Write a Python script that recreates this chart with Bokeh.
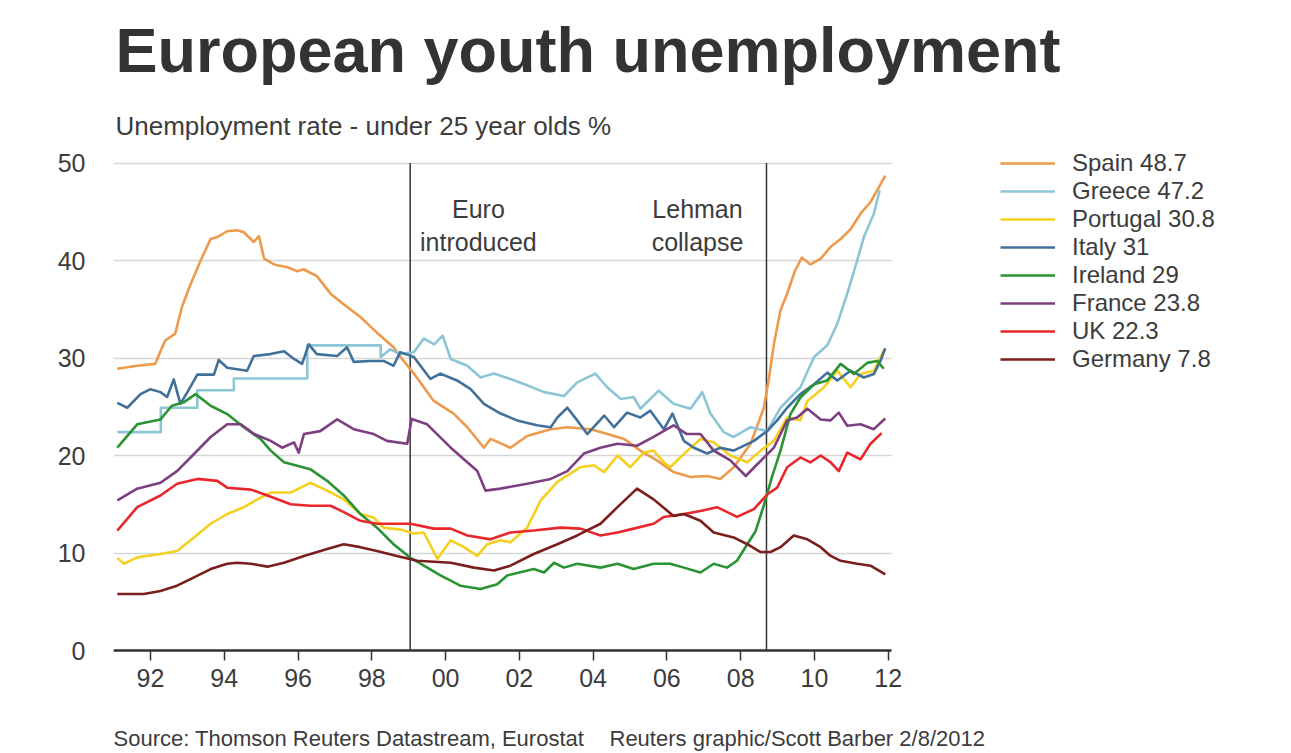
from bokeh.plotting import figure
from bokeh.models import Range1d, FixedTicker, Label, Legend, LegendItem
from bokeh.embed import file_html
from bokeh.resources import INLINE

# ---------------- data ----------------
countries = ["Spain", "Greece", "Portugal", "Italy", "Ireland", "France", "UK", "Germany"]
latest = [48.7, 47.2, 30.8, 31, 29, 23.8, 22.3, 7.8]
colors = ["#ED9A4C", "#8CC6D6", "#F5D020", "#41709A", "#2A9433", "#7D3F82", "#E8262B", "#7B1E1E"]

spain_t = [1991.10,1991.64,1992.13,1992.27,1992.40,1992.67,1992.85,1993.09,1993.36,1993.63,1993.81,1994.08,1994.35,1994.53,1994.80,1994.94,1995.08,1995.35,1995.71,1995.98,1996.15,1996.51,1996.88,1997.24,1997.69,1998.14,1998.59,1998.78,1999.14,1999.68,2000.22,2000.59,2001.04,2001.22,2001.76,2002.21,2002.85,2003.30,2003.93,2004.39,2004.84,2005.28,2005.73,2006.18,2006.64,2007.09,2007.45,2007.81,2008.27,2008.63,2008.77,2008.90,2009.08,2009.26,2009.48,2009.66,2009.89,2010.17,2010.44,2010.71,2010.98,2011.25,2011.52,2011.70,2011.92]
spain_v = [28.9,29.2,29.4,30.7,31.8,32.5,35.2,37.6,40.0,42.2,42.4,43.0,43.1,42.9,41.9,42.5,40.2,39.6,39.3,38.9,39.1,38.4,36.6,35.5,34.2,32.6,31.1,30.1,28.4,25.6,24.3,22.9,20.8,21.7,20.8,22.0,22.7,22.9,22.7,22.2,21.7,20.5,19.5,18.3,17.8,17.9,17.6,18.8,21.2,24.9,28.0,31.4,34.9,36.6,39.0,40.3,39.6,40.2,41.4,42.2,43.2,44.8,46.0,47.2,48.7]

greece_t = [1991.10,1992.28,1992.28,1993.27,1993.27,1994.26,1994.26,1996.25,1996.25,1998.24,1998.24,1998.50,1998.78,1999.14,1999.41,1999.69,1999.92,2000.14,2000.59,2000.95,2001.31,2001.76,2002.21,2002.67,2003.21,2003.57,2004.06,2004.38,2004.75,2005.10,2005.28,2005.78,2006.18,2006.64,2006.96,2007.18,2007.54,2007.81,2008.27,2008.72,2009.08,2009.62,2009.99,2010.35,2010.62,2010.89,2011.16,2011.34,2011.61,2011.77]
greece_v = [22.4,22.4,24.9,24.9,26.7,26.7,27.9,27.9,31.3,31.3,30.1,30.9,30.4,30.6,32.0,31.4,32.3,29.9,29.2,28.0,28.4,27.85,27.2,26.5,26.1,27.5,28.4,27.0,25.8,26.0,24.8,26.65,25.3,24.8,26.5,24.3,22.4,21.9,22.9,22.5,24.9,27.0,30.1,31.3,33.5,36.6,40.0,42.4,44.8,47.2]

portugal_t = [1991.10,1991.28,1991.64,1992.27,1992.72,1993.18,1993.63,1994.08,1994.53,1994.90,1995.26,1995.80,1996.33,1996.79,1997.24,1997.69,1998.05,1998.32,1998.78,1999.14,1999.41,1999.78,2000.14,2000.50,2000.86,2001.13,2001.49,2001.76,2002.21,2002.58,2003.03,2003.66,2004.02,2004.30,2004.66,2005.01,2005.37,2005.64,2005.92,2006.09,2006.46,2006.91,2007.27,2007.72,2008.18,2008.54,2008.90,2009.26,2009.62,2009.81,2010.26,2010.62,2010.98,2011.25,2011.61,2011.88]
portugal_v = [9.5,8.9,9.55,9.9,10.2,11.6,13.0,14.0,14.7,15.5,16.2,16.2,17.2,16.4,15.5,14.0,13.65,12.6,12.4,12.0,12.1,9.4,11.3,10.6,9.7,10.9,11.3,11.1,12.6,15.4,17.3,18.8,19.0,18.3,20.0,18.8,20.3,20.5,19.3,18.8,20.15,21.7,21.35,20.0,19.3,20.5,21.5,23.9,23.6,25.6,27.0,28.7,27.0,28.35,28.7,30.8]

italy_t = [1991.10,1991.37,1991.73,1992.00,1992.27,1992.45,1992.63,1992.81,1993.00,1993.27,1993.72,1993.85,1994.08,1994.62,1994.80,1995.25,1995.62,1995.89,1996.11,1996.29,1996.51,1997.06,1997.33,1997.51,1997.96,1998.32,1998.59,1998.77,1999.14,1999.59,1999.86,2000.31,2000.68,2001.04,2001.49,2001.94,2002.48,2002.85,2003.03,2003.30,2003.57,2003.84,2004.30,2004.57,2004.92,2005.28,2005.55,2005.92,2006.15,2006.46,2006.73,2007.09,2007.45,2007.81,2008.36,2008.72,2008.99,2009.26,2009.62,2009.99,2010.35,2010.62,2010.98,2011.34,2011.61,2011.79,2011.92]
italy_v = [25.4,24.9,26.3,26.8,26.5,26.0,27.8,25.3,26.5,28.3,28.3,29.8,29.0,28.7,30.2,30.4,30.7,29.9,29.4,31.4,30.4,30.2,31.1,29.6,29.7,29.7,29.2,30.6,30.1,27.85,28.4,27.7,26.8,25.3,24.3,23.6,23.1,22.9,23.9,24.9,23.6,22.2,24.1,22.9,24.4,23.9,24.6,22.7,24.3,21.5,20.8,20.2,20.8,20.5,21.5,22.5,23.6,24.9,26.3,27.3,28.5,27.7,28.7,28.0,28.35,29.7,31.0]

ireland_t = [1991.10,1991.64,1992.27,1992.58,1992.90,1993.22,1993.63,1994.08,1994.53,1994.98,1995.26,1995.62,1996.33,1996.79,1997.24,1997.69,1998.14,1998.59,1999.05,1999.32,1999.86,2000.40,2000.95,2001.40,2001.67,2002.39,2002.67,2002.94,2003.21,2003.57,2004.20,2004.66,2005.10,2005.64,2006.09,2006.46,2006.91,2007.27,2007.63,2007.90,2008.18,2008.40,2008.63,2008.85,2009.08,2009.26,2009.35,2009.62,2009.99,2010.35,2010.71,2011.07,2011.43,2011.70,2011.88]
ireland_v = [20.8,23.2,23.7,25.1,25.45,26.3,25.1,24.25,22.9,21.7,20.5,19.3,18.6,17.4,15.9,14.0,12.6,10.9,9.5,8.9,7.7,6.65,6.3,6.8,7.7,8.35,8.0,9.0,8.5,8.9,8.5,8.9,8.35,8.9,8.9,8.5,8.0,8.9,8.5,9.2,10.9,12.2,14.9,17.8,20.5,23.0,24.25,25.95,27.3,27.7,29.4,28.35,29.5,29.7,28.9]

france_t = [1991.10,1991.64,1992.27,1992.72,1993.18,1993.63,1994.08,1994.45,1994.81,1995.26,1995.57,1995.89,1996.02,1996.16,1996.60,1997.06,1997.51,1998.05,1998.41,1998.96,1999.08,1999.50,2000.14,2000.86,2001.08,2001.49,2002.21,2002.85,2003.30,2003.75,2004.20,2004.66,2005.19,2005.64,2006.18,2006.54,2006.91,2007.27,2007.72,2008.14,2008.45,2008.90,2009.26,2009.53,2009.81,2010.17,2010.44,2010.66,2010.89,2011.25,2011.61,2011.92]
france_v = [15.4,16.6,17.2,18.4,20.15,21.9,23.2,23.2,22.2,21.5,20.8,21.35,20.3,22.2,22.5,23.7,22.7,22.2,21.5,21.2,23.75,23.2,20.8,18.4,16.4,16.6,17.1,17.6,18.4,20.2,20.8,21.2,21.0,21.9,23.1,22.2,22.2,20.5,19.5,17.9,19.1,20.8,23.6,23.9,24.8,23.7,23.6,24.4,23.05,23.2,22.7,23.8]

uk_t = [1991.10,1991.64,1992.27,1992.72,1993.27,1993.81,1994.08,1994.72,1995.17,1995.80,1996.33,1996.88,1997.24,1997.69,1998.14,1998.59,1999.05,1999.68,2000.14,2000.59,2001.22,2001.76,2002.39,2003.12,2003.66,2004.20,2004.66,2005.10,2005.64,2005.92,2006.46,2006.91,2007.36,2007.90,2008.36,2008.72,2008.99,2009.26,2009.62,2009.89,2010.17,2010.44,2010.66,2010.89,2011.25,2011.52,2011.82]
uk_v = [12.3,14.7,15.9,17.1,17.6,17.4,16.7,16.5,15.9,15.0,14.85,14.85,14.2,13.3,13.0,13.0,13.0,12.5,12.5,11.8,11.4,12.1,12.3,12.6,12.5,11.8,12.1,12.5,13.0,13.7,14.0,14.3,14.7,13.7,14.5,16.0,16.7,18.8,19.8,19.3,20.0,19.3,18.4,20.3,19.6,21.2,22.3]

germany_t = [1991.10,1991.82,1992.27,1992.72,1993.18,1993.63,1994.08,1994.35,1994.72,1995.17,1995.62,1996.16,1996.79,1997.24,1997.69,1998.14,1998.68,1999.23,2000.14,2000.77,2001.31,2001.76,2002.39,2003.03,2003.57,2004.20,2004.66,2005.19,2005.64,2006.18,2006.46,2006.91,2007.27,2007.81,2008.18,2008.54,2008.81,2009.08,2009.44,2009.81,2010.17,2010.44,2010.71,2011.16,2011.52,2011.92]
germany_v = [5.8,5.8,6.1,6.65,7.5,8.35,8.9,9.0,8.9,8.6,9.0,9.7,10.4,10.9,10.6,10.2,9.7,9.2,9.0,8.5,8.2,8.7,9.9,10.9,11.8,13.0,14.7,16.6,15.5,13.8,14.0,13.3,12.1,11.6,10.9,10.1,10.1,10.6,11.8,11.4,10.6,9.7,9.2,8.9,8.7,7.8]

series_t = [spain_t, greece_t, portugal_t, italy_t, ireland_t, france_t, uk_t, germany_t]
series_v = [spain_v, greece_v, portugal_v, italy_v, ireland_v, france_v, uk_v, germany_v]

event_dates = [1999.04, 2008.70]
event_lines1 = ["Euro", "Lehman"]
event_lines2 = ["introduced", "collapse"]
event_label_x = [2000.89, 2006.83]

y_ticks = [0, 10, 20, 30, 40, 50]
x_ticks = [1992, 1994, 1996, 1998, 2000, 2002, 2004, 2006, 2008, 2010, 2012]
x_tick_labels = ["92", "94", "96", "98", "00", "02", "04", "06", "08", "10", "12"]

# ---------------- layout ----------------
W, H = 1288, 752
FRAME_LEFT = 113          # canvas x of the chart's left edge
ZERO_Y = 650              # canvas y of the zero line
PX_PER_YEAR = 36.885
PX_PER_UNIT = 9.75
X_START = 1990.997
X_AXIS_END = 2012.09
X_END = X_START + (W - FRAME_LEFT) / PX_PER_YEAR
Y_TOP = ZERO_Y / PX_PER_UNIT
Y_BOTTOM = -(H - ZERO_Y) / PX_PER_UNIT
Y_AXIS_END = 50

FONT = "Liberation Sans"
TXT = "#3c3c3c"

p = figure(width=W, height=H, output_backend="svg", toolbar_location=None,
           x_range=Range1d(X_START, X_END), y_range=Range1d(Y_BOTTOM, Y_TOP),
           min_border_left=FRAME_LEFT, min_border_right=0,
           min_border_top=0, min_border_bottom=0)
p.outline_line_color = None
p.background_fill_color = "white"
p.border_fill_color = "white"

# grid (horizontal lines only across the chart area)
p.xgrid.grid_line_color = None
grid = p.ygrid[0]
if "cross_bounds" in grid.properties():
    grid.ticker = FixedTicker(ticks=y_ticks)
    grid.bounds = (0, Y_AXIS_END)
    grid.cross_bounds = (X_START, X_AXIS_END)
    grid.grid_line_color = "#d6d6d6"
    grid.grid_line_width = 1.5
else:
    grid.grid_line_color = None
    p.segment(x0=[X_START] * len(y_ticks), y0=y_ticks, x1=[X_AXIS_END] * len(y_ticks), y1=y_ticks,
              line_color="#d6d6d6", line_width=1.5, level="underlay")

# y axis
p.yaxis.ticker = FixedTicker(ticks=y_ticks)
p.yaxis.axis_line_color = None
p.yaxis.major_tick_line_color = None
p.yaxis.minor_tick_line_color = None
p.yaxis.major_label_text_font = FONT
p.yaxis.major_label_text_font_size = "25px"
p.yaxis.major_label_text_color = TXT
p.yaxis.major_label_standoff = 22

# x axis, drawn on the zero line
p.xaxis.fixed_location = 0
p.xaxis.ticker = FixedTicker(ticks=x_ticks)
p.xaxis.bounds = (X_START, X_AXIS_END)
p.xaxis.major_label_overrides = {t: l for t, l in zip(x_ticks, x_tick_labels)}
p.xaxis.axis_line_color = "#333333"
p.xaxis.axis_line_width = 2.5
p.xaxis.major_tick_line_color = "#333333"
p.xaxis.major_tick_line_width = 1.5
p.xaxis.major_tick_in = 0
p.xaxis.major_tick_out = 10
p.xaxis.minor_tick_line_color = None
p.xaxis.major_label_text_font = FONT
p.xaxis.major_label_text_font_size = "25px"
p.xaxis.major_label_text_color = TXT
p.xaxis.major_label_standoff = 8

# event lines (from the zero line to the top of the chart)
p.segment(x0=event_dates, y0=[0] * len(event_dates), x1=event_dates,
          y1=[Y_AXIS_END] * len(event_dates), line_color="#333333", line_width=1.5)


def at(px, baseline_py, size):
    """canvas pixel of a text's left/centre and baseline -> data coordinates"""
    return (X_START + (px - FRAME_LEFT) / PX_PER_YEAR,
            (ZERO_Y - (baseline_py - 0.4 * size)) / PX_PER_UNIT)


def text(px, py, s, size, **kw):
    x, y = at(px, py, size)
    p.add_layout(Label(x=x, y=y, text=s, text_baseline="alphabetic", text_font=FONT,
                       text_font_size=f"{size}px", text_color=kw.pop("color", TXT), **kw))


for lx, l1, l2 in zip(event_label_x, event_lines1, event_lines2):
    cx = FRAME_LEFT + (lx - X_START) * PX_PER_YEAR
    text(cx, 218, l1, 25, text_align="center")
    text(cx, 251, l2, 25, text_align="center")

# series
renderers = []
for t, v, c in zip(series_t, series_v, colors):
    renderers.append(p.line(t, v, line_color=c, line_width=2.6, line_join="round"))

items = [LegendItem(label=f"{n} {val:g}", renderers=[r]) for n, val, r in zip(countries, latest, renderers)]
legend = Legend(items=items, location=(1000 - FRAME_LEFT, H - 373),
                label_text_font=FONT, label_text_font_size="24px", label_text_color=TXT,
                glyph_width=55, glyph_height=28, label_height=28, label_standoff=17,
                spacing=0, padding=0, margin=0, border_line_color=None,
                background_fill_alpha=0)
p.add_layout(legend)

# title, subtitle and source line
text(115, 75, "European youth unemployment", 63, text_font_style="bold", color="#333333")
text(115, 136, "Unemployment rate - under 25 year olds %", 26)
text(113, 747, "Source: Thomson Reuters Datastream, Eurostat", 22)
text(609, 747, "Reuters graphic/Scott Barber 2/8/2012", 22)

open("out.html", "w").write(file_html(p, INLINE))
